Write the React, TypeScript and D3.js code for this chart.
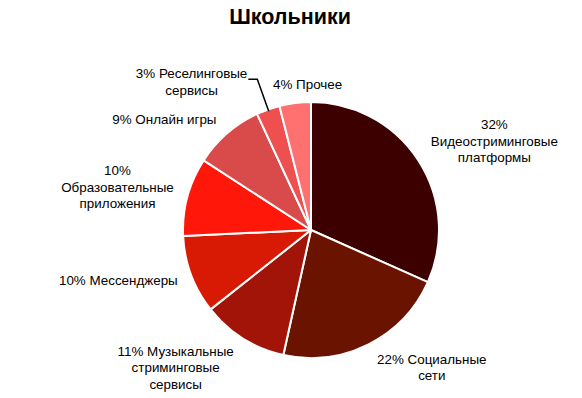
import React, { useRef, useEffect } from 'react';
import * as d3 from 'd3';

const title = 'Школьники';
const categories = [
  'Видеостриминговые платформы',
  'Социальные сети',
  'Музыкальные стриминговые сервисы',
  'Мессенджеры',
  'Образовательные приложения',
  'Онлайн игры',
  'Реселинговые сервисы',
  'Прочее',
];
const values = [32, 22, 11, 10, 10, 9, 3, 4];
const colors = ['#3d0000', '#6a1300', '#a21408', '#d81a04', '#ff170a', '#d94a4a', '#ee5050', '#ff7070'];

const App = () => {
  const svgRef = useRef<SVGSVGElement>(null);

  useEffect(() => {
    const width = 582;
    const height = 398;
    const cx = 311;
    const cy = 230;
    const radius = 128;
    const fontSize = 13.4;
    const lineH = 16.5;
    const wrapMax = 134;

    const svg = d3.select(svgRef.current);
    svg.selectAll('*').remove();

    svg.append('text')
      .attr('x', 290)
      .attr('y', 24)
      .attr('text-anchor', 'middle')
      .attr('font-family', 'Liberation Sans, Arial, sans-serif')
      .attr('font-weight', 'bold')
      .attr('font-size', 21.5)
      .text(title);

    const pie = d3.pie<number>().sort(null).value(d => d);
    const arcs = pie(values);
    const arc = d3.arc<d3.PieArcDatum<number>>().innerRadius(0).outerRadius(radius);

    const g = svg.append('g').attr('transform', `translate(${cx},${cy})`);
    g.selectAll('path')
      .data(arcs)
      .join('path')
      .attr('d', arc)
      .attr('fill', (d, i) => colors[i])
      .attr('stroke', '#fff')
      .attr('stroke-width', 2)
      .attr('stroke-linejoin', 'round');

    // measuring helper
    const measure = svg.append('text')
      .attr('font-family', 'Liberation Sans, Arial, sans-serif')
      .attr('font-size', fontSize)
      .attr('visibility', 'hidden');
    const textWidth = (s: string) => {
      measure.text(s);
      return (measure.node() as SVGTextElement).getComputedTextLength();
    };

    const wrap = (s: string) => {
      const words = s.split(' ');
      const lines: string[] = [];
      let cur = '';
      words.forEach(w => {
        const next = cur ? cur + ' ' + w : w;
        if (cur && textWidth(next) > wrapMax) {
          lines.push(cur);
          cur = w;
        } else cur = next;
      });
      if (cur) lines.push(cur);
      return lines;
    };

    arcs.forEach((d, i) => {
      const lines = wrap(`${values[i]}% ${categories[i]}`);
      const w = d3.max(lines, l => textWidth(l)) || 0;
      const h = lines.length * lineH;
      const mid = (d.startAngle + d.endAngle) / 2;
      const s = Math.sin(mid);
      const c = Math.cos(mid);
      let bx: number; // block center
      let by: number;

      if (values[i] <= 3) {
        // leader line label
        const e = [s * (radius - 2), -c * (radius - 2)];
        const k = [s * (radius + 32), -c * (radius + 32)];
        const endX = k[0] - 9;
        g.append('path')
          .attr('d', d3.line()([e as [number, number], k as [number, number], [endX, k[1]]]))
          .attr('fill', 'none')
          .attr('stroke', '#000')
          .attr('stroke-width', 1.5);
        bx = endX - 1 - w / 2;
        by = k[1] + 3;
      } else {
        const ax = s * (radius + 10);
        const ay = -c * (radius + 10);
        if (Math.abs(s) < 0.3) bx = ax + s * w / 2 + (s < 0 ? 18 : 0);
        else bx = ax + Math.sign(s) * (w / 2 + 4);
        by = ay - c * h / 2;
      }

      const t = g.append('text')
        .attr('font-family', 'Liberation Sans, Arial, sans-serif')
        .attr('font-size', fontSize)
        .attr('text-anchor', 'middle')
        .attr('fill', '#000');
      lines.forEach((l, j) => {
        t.append('tspan')
          .attr('x', bx)
          .attr('y', by - h / 2 + j * lineH + lineH * 0.75)
          .text(l);
      });
    });

    measure.remove();
    svg.attr('width', width).attr('height', height);
  }, []);

  return (
    <div style={{ position: 'absolute', left: 0, top: 0 }}>
      <svg ref={svgRef} width={582} height={398} style={{ display: 'block', background: '#fff' }} />
    </div>
  );
};

export default App;
